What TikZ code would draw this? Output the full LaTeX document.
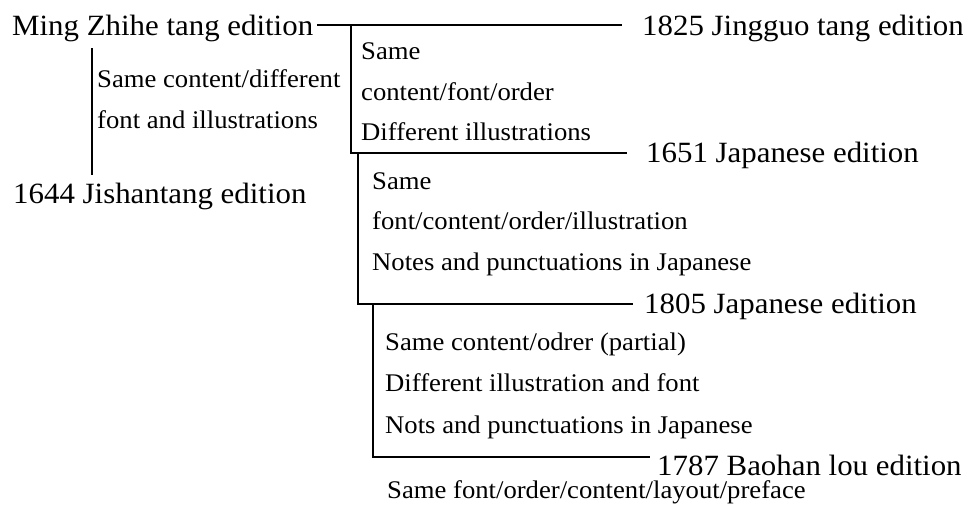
\documentclass[tikz,border=0pt]{standalone}
\usepackage{fontspec}
\setmainfont{Liberation Serif}
\begin{document}
\begin{tikzpicture}[x=1pt,y=-1pt,
  edition/.style={anchor=base west,inner sep=0pt,xscale=1.05,font=\fontsize{29.4}{31}\selectfont},
  note/.style={anchor=base west,inner sep=0pt,xscale=1.05,font=\fontsize{25.4}{27}\selectfont},
  link/.style={line width=1.5pt,black}]
\useasboundingbox[fill=white] (0,0) rectangle (963,509);
% editions
\node[edition] (ming) at (12,35) {Ming Zhihe tang edition};
\node[edition] (j1825) at (642,35) {1825 Jingguo tang edition};
\node[edition] (j1651) at (646,162) {1651 Japanese edition};
\node[edition] (j1805) at (644,313) {1805 Japanese edition};
\node[edition] (b1787) at (657,475) {1787 Baohan lou edition};
\node[edition] (j1644) at (13,203) {1644 Jishantang edition};
% notes
\node[note] (n1a) at (97,87) {Same content/different};
\node[note] (n1b) at (97,128) {font and illustrations};
\node[note] (n2a) at (361,59) {Same};
\node[note] (n2b) at (361,100) {content/font/order};
\node[note] (n2c) at (361,140) {Different illustrations};
\node[note] (n3a) at (372,189) {Same};
\node[note] (n3b) at (372,229) {font/content/order/illustration};
\node[note] (n3c) at (372,270) {Notes and punctuations in Japanese};
\node[note] (n4a) at (385,350) {Same content/odrer (partial)};
\node[note] (n4b) at (385,391) {Different illustration and font};
\node[note] (n4c) at (385,433) {Nots and punctuations in Japanese};
\node[note] (n5a) at (387,498) {Same font/order/content/layout/preface};
% branch points
\coordinate (m0) at (317,25);
\coordinate (b1) at (351,25);
\coordinate (e1825) at (622,25);
\coordinate (b2) at (351,153);
\coordinate (e1651) at (627,153);
\coordinate (b3) at (358,153);
\coordinate (b4) at (358,304);
\coordinate (e1805) at (633,304);
\coordinate (b5) at (373,304);
\coordinate (b6) at (373,457);
\coordinate (e1787) at (650,457);
\coordinate (l0) at (92,48);
\coordinate (l1) at (92,175);
% connectors
\draw[link] (m0) -- (e1825);
\draw[link] (b1) -- (b2) -- (e1651);
\draw[link] (b3) -- (b4) -- (e1805);
\draw[link] (b5) -- (b6) -- (e1787);
\draw[link] (l0) -- (l1);
\end{tikzpicture}
\end{document}
